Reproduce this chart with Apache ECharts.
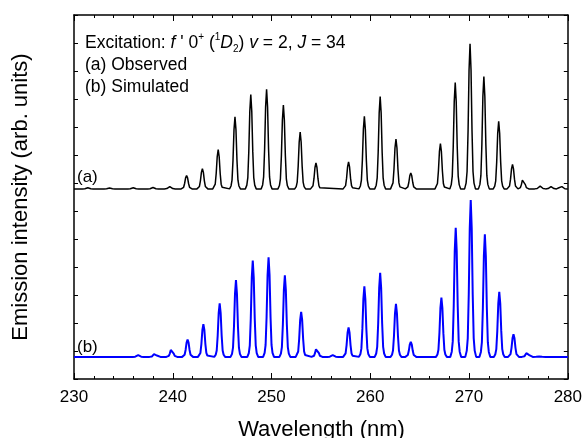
<!DOCTYPE html>
<html>
<head>
<meta charset="utf-8">
<script src="https://cdn.jsdelivr.net/npm/echarts@6/dist/echarts.min.js"></script>
<style>html,body{margin:0;padding:0;background:#fff}#chart{width:585px;height:438px}</style>
</head>
<body>
<div id="chart"></div>
<script>
// ---- Data ----
const xTickValues = [230, 240, 250, 260, 270, 280];

// (a) Observed spectrum: peak wavelengths (nm) and peak heights (arb. units above baseline)
const observedWavelengths = [231.4, 233.6, 236.0, 238.0, 239.7, 241.4, 243.0, 244.6, 246.3, 247.9, 249.5, 251.2, 252.9, 254.5, 257.8, 259.4, 261.0, 262.6, 264.1, 267.1, 268.6, 270.1, 271.5, 273.0, 274.4, 275.5, 277.2, 278.3, 279.3];
const observedHeights     = [0.04, 0.03, 0.04, 0.05, 0.08, 0.48, 0.72, 1.40, 2.57, 3.37, 3.56, 2.99, 2.03, 0.93, 0.96, 2.59, 3.30, 1.78, 0.57, 1.62, 3.80, 5.18, 4.01, 2.41, 0.87, 0.38, 0.10, 0.08, 0.10];
const observedBaseline = 6.79;

// (b) Simulated spectrum
const simulatedWavelengths = [236.5, 238.2, 239.9, 241.5, 243.1, 244.75, 246.4, 248.1, 249.7, 251.35, 253.0, 254.6, 256.2, 257.8, 259.4, 261.0, 262.6, 264.1, 267.2, 268.65, 270.17, 271.6, 273.06, 274.5, 275.9, 277.2];
const simulatedHeights     = [0.06, 0.12, 0.30, 0.62, 1.17, 1.91, 2.74, 3.44, 3.56, 2.91, 1.61, 0.33, 0.06, 1.05, 2.52, 3.00, 1.89, 0.54, 2.12, 4.61, 5.60, 4.38, 2.32, 0.81, 0.16, 0.02];
const simulatedBaseline = 0.79;

// ---- Line-shape used to draw each band (rendering only) ----
const PROFILE_DX = [-0.55, -0.4, -0.3, -0.2, -0.1, 0, 0.1, 0.2, 0.3, 0.4, 0.55];
const PROFILE_F  = [0, 0.04, 0.12, 0.40, 0.82, 1, 0.82, 0.40, 0.12, 0.04, 0];

function buildTrace(wl, h, base) {
  const pts = [[230, base]];
  wl.forEach((c, i) => {
    PROFILE_DX.forEach((dx, k) => pts.push([+(c + dx).toFixed(3), base + h[i] * PROFILE_F[k]]));
  });
  pts.push([280, base]);
  pts.sort((a, b) => a[0] - b[0]);
  return pts;
}

const FONT = 'Liberation Sans, Arial, Helvetica, sans-serif';
const chart = echarts.init(document.getElementById('chart'), null, {renderer: 'canvas'});

const lineCommon = {
  axisLine: {show: true, onZero: false, lineStyle: {color: '#000', width: 1.5}},
  splitLine: {show: false}
};

const option = {
  animation: false,
  backgroundColor: '#fff',
  grid: {left: 74, right: 16, top: 15, bottom: 59, containLabel: false},
  xAxis: [
    Object.assign({
      type: 'value', min: 230, max: 280, interval: 10, position: 'bottom',
      axisTick: {show: true, inside: true, length: 6, lineStyle: {color: '#000', width: 1}},
      minorTick: {show: true, splitNumber: 5, length: 3, lineStyle: {color: '#000', width: 1}},
      axisLabel: {show: true, margin: 10, color: '#000', fontFamily: FONT, fontSize: 17,
        formatter: v => xTickValues.includes(v) ? String(v) : ''}
    }, lineCommon),
    Object.assign({
      type: 'value', min: 230, max: 280, interval: 10, position: 'top',
      axisTick: {show: true, inside: true, length: 6, lineStyle: {color: '#000', width: 1}},
      minorTick: {show: true, splitNumber: 5, length: 3, lineStyle: {color: '#000', width: 1}},
      axisLabel: {show: false}
    }, lineCommon)
  ],
  yAxis: [
    Object.assign({
      type: 'value', min: 0, max: 13, interval: 1, position: 'left',
      axisTick: {show: true, inside: true, length: 4, lineStyle: {color: '#000'}},
      axisLabel: {show: false}
    }, lineCommon),
    Object.assign({
      type: 'value', min: 0, max: 13, interval: 1, position: 'right',
      axisTick: {show: true, inside: true, length: 4, lineStyle: {color: '#000'}},
      axisLabel: {show: false}
    }, lineCommon)
  ],
  series: [
    {
      name: '(a) Observed', type: 'line', xAxisIndex: 0, yAxisIndex: 0,
      data: buildTrace(observedWavelengths, observedHeights, observedBaseline),
      showSymbol: false, symbol: 'none', smooth: false,
      lineStyle: {color: '#000', width: 1.5}
    },
    {
      name: '(b) Simulated', type: 'line', xAxisIndex: 0, yAxisIndex: 0,
      data: buildTrace(simulatedWavelengths, simulatedHeights, simulatedBaseline),
      showSymbol: false, symbol: 'none', smooth: false,
      lineStyle: {color: '#0000ff', width: 2}
    }
  ],
  graphic: [
    {
      type: 'text', x: 85, y: 32,
      style: {
        text: '{n|Excitation: }{i|f}{n| \' 0}{sup|+}{n| (}{sup|1}{i|D}{sub|2}{n|) }{i|v}{n| = 2, }{i|J}{n| = 34}',
        rich: {
          n: {fontFamily: FONT, fontSize: 17.5, color: '#000', lineHeight: 22},
          i: {fontFamily: FONT, fontSize: 17.5, fontStyle: 'italic', color: '#000', lineHeight: 22},
          sup: {fontFamily: FONT, fontSize: 10, color: '#000', verticalAlign: 'top', lineHeight: 22},
          sub: {fontFamily: FONT, fontSize: 10, color: '#000', verticalAlign: 'bottom', lineHeight: 22}
        }
      }
    },
    {type: 'text', x: 85, y: 56, style: {text: '(a) Observed', fontFamily: FONT, fontSize: 17.5, fill: '#000'}},
    {type: 'text', x: 85, y: 78, style: {text: '(b) Simulated', fontFamily: FONT, fontSize: 17.5, fill: '#000'}},
    {type: 'text', x: 77, y: 177, style: {text: '(a)', fontFamily: FONT, fontSize: 17, fill: '#000', verticalAlign: 'middle'}},
    {type: 'text', x: 77, y: 347, style: {text: '(b)', fontFamily: FONT, fontSize: 17, fill: '#000', verticalAlign: 'middle'}},
    {type: 'text', x: 321.5, y: 419, style: {text: 'Wavelength (nm)', fontFamily: FONT, fontSize: 22, fill: '#000', align: 'center', verticalAlign: 'top'}},
    {type: 'text', x: 21, y: 197, rotation: Math.PI / 2, style: {text: 'Emission intensity (arb. units)', fontFamily: FONT, fontSize: 22, fill: '#000', align: 'center', verticalAlign: 'middle'}}
  ]
};
chart.setOption(option);
</script>
</body>
</html>
